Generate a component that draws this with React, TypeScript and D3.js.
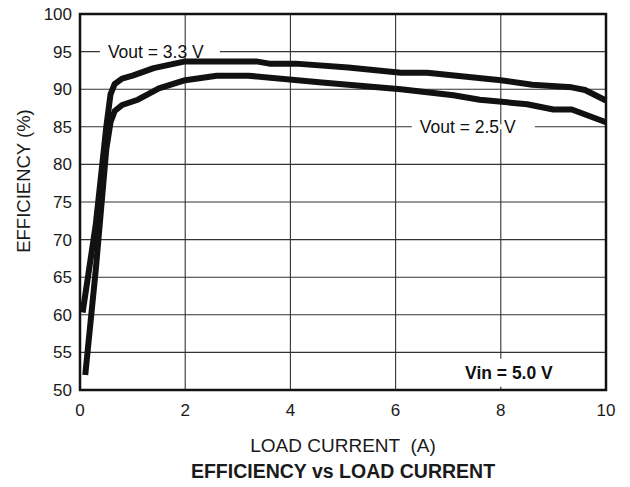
import React from 'react';
import * as d3 from 'd3';

// load current (A) vs efficiency (%)
const vout33: [number, number][] = [
  [0.05, 60.3], [0.3, 72], [0.5, 85], [0.58, 89.3], [0.66, 90.7], [0.8, 91.4],
  [1.0, 91.8], [1.4, 92.8], [2.0, 93.7], [3.35, 93.7], [3.6, 93.4], [4.1, 93.4],
  [5.1, 92.9], [6.1, 92.2], [6.6, 92.2], [8.0, 91.2], [8.6, 90.6], [9.35, 90.25],
  [9.6, 89.9], [10, 88.5],
];
const vout25: [number, number][] = [
  [0.1, 52], [0.3, 66], [0.5, 82], [0.58, 85.6], [0.66, 87.1], [0.8, 87.9],
  [1.1, 88.6], [1.5, 90.1], [2.0, 91.2], [2.6, 91.8], [3.2, 91.8], [4.6, 90.9],
  [6.1, 90], [7.1, 89.2], [7.6, 88.6], [8.5, 88], [9.0, 87.3], [9.35, 87.3],
  [10, 85.6],
];
const xTicks = [0, 2, 4, 6, 8, 10];
const yTicks = [50, 55, 60, 65, 70, 75, 80, 85, 90, 95, 100];

const width = 630;
const height = 487;
const margin = { top: 14, right: 24, bottom: 97, left: 80 };
const font = '"Liberation Sans", Arial, sans-serif';

export default function App() {
  const x = d3.scaleLinear().domain([0, 10]).range([margin.left, width - margin.right]);
  const y = d3.scaleLinear().domain([50, 100]).range([height - margin.bottom, margin.top]);
  const line = d3
    .line<[number, number]>()
    .x((d) => x(d[0]))
    .y((d) => y(d[1]));

  // curve annotations; the white strip breaks the gridline behind the text
  const labels = [
    { text: 'Vout = 3.3 V', vx: 0.53, vy: 95, bold: false, padL: 8, padR: 13, boxH: 5 },
    { text: 'Vout = 2.5 V', vx: 6.46, vy: 85, bold: false, padL: 8, padR: 16, boxH: 5 },
    { text: 'Vin = 5.0 V', vx: 7.32, vy: 52.3, bold: true, padL: 3, padR: 3, boxH: 28 },
  ];

  return (
    <div style={{ position: 'absolute', left: 0, top: 0 }}>
      <svg width={width} height={height} viewBox={`0 0 ${width} ${height}`}>
        <rect width={width} height={height} fill="white" />
        <g stroke="#333" strokeWidth={1.1}>
          {yTicks.slice(1, -1).map((t) => (
            <line key={'h' + t} x1={x(0)} x2={x(10)} y1={y(t)} y2={y(t)} />
          ))}
          {xTicks.slice(1, -1).map((t) => (
            <line key={'v' + t} x1={x(t)} x2={x(t)} y1={y(50)} y2={y(100)} />
          ))}
        </g>
        {labels.map((l) => {
          const w = l.text.length * (l.bold ? 7.9 : 8.25);
          return (
            <g key={l.text}>
              <rect
                x={x(l.vx) - l.padL}
                y={y(l.vy) - l.boxH / 2}
                width={w + l.padL + l.padR}
                height={l.boxH}
                fill="white"
              />
              <text
                x={x(l.vx)}
                y={y(l.vy)}
                dy="0.35em"
                fontFamily={font}
                fontSize={17.5}
                fontWeight={l.bold ? 'bold' : 'normal'}
                fill="#111"
              >
                {l.text}
              </text>
            </g>
          );
        })}
        <path d={line(vout33) ?? ''} fill="none" stroke="#111" strokeWidth={6} strokeLinejoin="round" />
        <path d={line(vout25) ?? ''} fill="none" stroke="#111" strokeWidth={6} strokeLinejoin="round" />
        <rect
          x={x(0)}
          y={y(100)}
          width={x(10) - x(0)}
          height={y(50) - y(100)}
          fill="none"
          stroke="#111"
          strokeWidth={2.5}
        />
        <g fontFamily={font} fontSize={17} fill="#1a1a1a">
          {yTicks.map((t) => (
            <text key={'yt' + t} x={x(0) - 8} y={y(t)} dy="0.35em" textAnchor="end">
              {t}
            </text>
          ))}
          {xTicks.map((t) => (
            <text key={'xt' + t} x={x(t)} y={y(50) + 20} dy="0.35em" textAnchor="middle">
              {t}
            </text>
          ))}
          <text x={x(5)} y={445} dy="0.35em" textAnchor="middle" fontSize={19} style={{ whiteSpace: 'pre' }}>
            LOAD CURRENT  (A)
          </text>
          <text
            transform="translate(24,181) rotate(-90)"
            dy="0.35em"
            textAnchor="middle"
            fontSize={18.5}
          >
            EFFICIENCY (%)
          </text>
          <text x={x(5)} y={471} dy="0.35em" textAnchor="middle" fontWeight="bold" fontSize={19.5}>
            EFFICIENCY vs LOAD CURRENT
          </text>
        </g>
      </svg>
    </div>
  );
}
